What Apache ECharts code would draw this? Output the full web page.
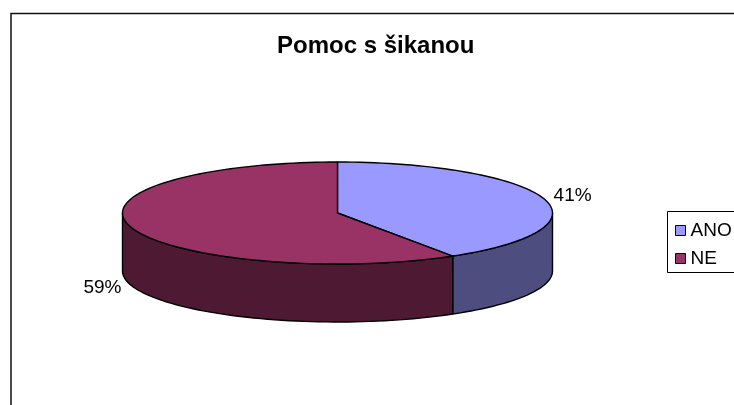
<!DOCTYPE html>
<html lang="cs">
<head>
<meta charset="UTF-8">
<title>Pomoc s šikanou</title>
<script src="https://cdn.jsdelivr.net/npm/echarts@6/dist/echarts.min.js"></script>
<style>
  html, body { margin: 0; background: #fff; }
  #chart { width: 734px; height: 405px; }
</style>
</head>
<body>
<div id="chart"></div>
<script>
  // data
  var categories = ['ANO', 'NE'];
  var values = [41, 59];
  var topColors = ['#9999FF', '#993366'];
  var sideColors = ['#4D4D80', '#4D1933'];

  var total = values.reduce(function (a, b) { return a + b; }, 0);
  var starts = [];
  var acc = 0;
  values.forEach(function (v) { starts.push(acc / total * 360); acc += v; });

  // flattened pie geometry (angles clockwise from 12 o'clock)
  var cx = 337.5, cy = 213, rx = 215, ry = 51, depth = 58;

  function pt(deg, dy, erx, ery) {
    var r = deg * Math.PI / 180;
    return [cx + (erx || rx) * Math.sin(r), cy - (ery || ry) * Math.cos(r) + (dy || 0)];
  }
  function arc(a, b, dy) {
    var pts = [], n = Math.max(2, Math.ceil(Math.abs(b - a) / 2));
    for (var k = 0; k <= n; k++) pts.push(pt(a + (b - a) * k / n, dy));
    return pts;
  }

  function renderSlice(params, api) {
    var i = params.seriesIndex;
    var a0 = starts[i], a1 = a0 + values[i] / total * 360;
    var children = [];
    var lo = Math.max(a0, 90), hi = Math.min(a1, 270);
    if (lo < hi) {
      children.push({
        type: 'polygon',
        shape: { points: arc(lo, hi, 0).concat(arc(hi, lo, depth)) },
        style: { fill: sideColors[i], stroke: '#000', lineWidth: 1.4, lineJoin: 'round' }
      });
    }
    children.push({
      type: 'polygon',
      shape: { points: [[cx, cy]].concat(arc(a0, a1, 0)) },
      style: { fill: topColors[i], stroke: '#000', lineWidth: 1.4, lineJoin: 'round' }
    });
    var mid = (a0 + a1) / 2;
    var front = Math.cos(mid * Math.PI / 180) < 0;
    var lp = pt(mid, front ? depth : 0, rx + 10, ry + 10);
    children.push({
      type: 'text',
      x: lp[0], y: lp[1],
      style: {
        text: Math.round(values[i] / total * 100) + '%',
        fill: '#000',
        font: '19px Arial, "Liberation Sans", sans-serif',
        align: Math.sin(mid * Math.PI / 180) >= 0 ? 'left' : 'right',
        verticalAlign: 'middle'
      }
    });
    return { type: 'group', children: children };
  }

  var chart = echarts.init(document.getElementById('chart'));
  chart.setOption({
    animation: false,
    title: {
      text: 'Pomoc s šikanou',
      left: 277,
      top: 34,
      padding: 0,
      textStyle: { fontFamily: 'Arial, "Liberation Sans", sans-serif', fontSize: 24, fontWeight: 'bold', color: '#000' }
    },
    legend: {
      orient: 'vertical',
      left: 675,
      top: 221,
      padding: 0,
      itemGap: 9,
      itemWidth: 10,
      itemHeight: 10,
      icon: 'rect',
      selectedMode: false,
      data: categories,
      itemStyle: { borderColor: '#000', borderWidth: 1 },
      textStyle: { fontFamily: 'Arial, "Liberation Sans", sans-serif', fontSize: 19, color: '#000' }
    },
    graphic: [
      { type: 'rect', silent: true, z: -10, shape: { x: 11, y: 13.5, width: 800, height: 500 }, style: { fill: 'none', stroke: '#111', lineWidth: 1.5 } },
      { type: 'rect', silent: true, shape: { x: 667.5, y: 211.5, width: 100, height: 61 }, style: { fill: 'none', stroke: '#000', lineWidth: 1 } }
    ],
    series: categories.map(function (name, i) {
      return {
        type: 'custom',
        name: name,
        coordinateSystem: 'none',
        silent: true,
        itemStyle: { color: topColors[i] },
        renderItem: renderSlice,
        data: [values[i]]
      };
    })
  });
</script>
</body>
</html>
